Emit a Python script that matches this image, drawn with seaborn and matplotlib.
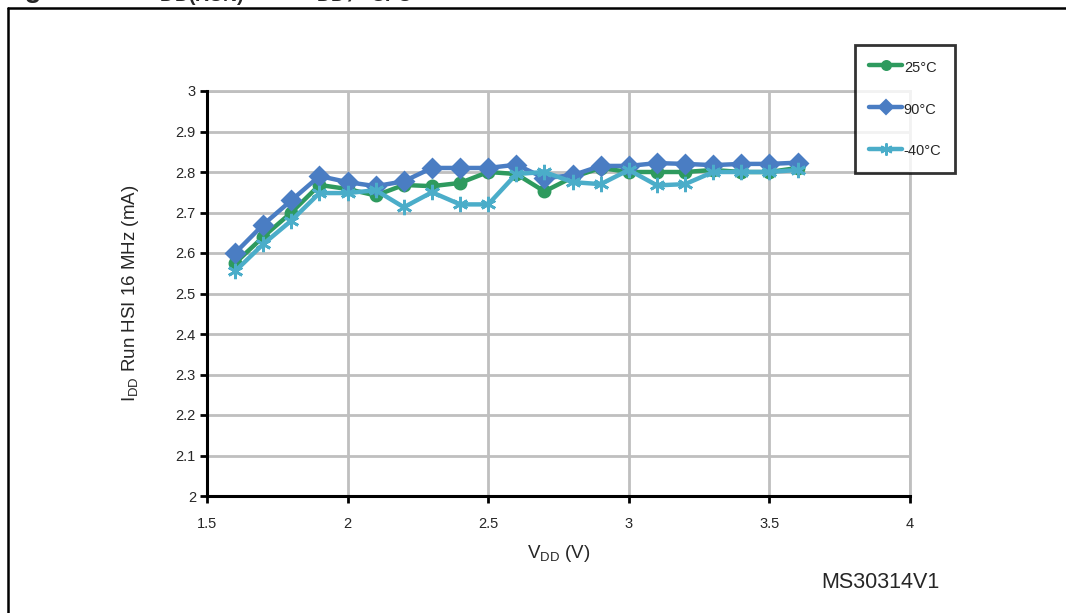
import matplotlib
matplotlib.use("Agg")
import matplotlib.pyplot as plt
import matplotlib.ticker as mticker
from matplotlib.lines import Line2D
import seaborn as sns
import pandas as pd

# supply voltage (V)
vdd = [1.6, 1.7, 1.8, 1.9, 2.0, 2.1, 2.2, 2.3, 2.4, 2.5, 2.6,
       2.7, 2.8, 2.9, 3.0, 3.1, 3.2, 3.3, 3.4, 3.5, 3.6]

# IDD Run HSI 16 MHz (mA) per temperature
idd_25c = [2.575, 2.64, 2.70, 2.768, 2.758, 2.742, 2.768, 2.765, 2.773, 2.80, 2.795,
           2.752, 2.787, 2.81, 2.80, 2.80, 2.80, 2.805, 2.80, 2.80, 2.81]
idd_90c = [2.60, 2.67, 2.73, 2.79, 2.775, 2.765, 2.777, 2.81, 2.81, 2.81, 2.818,
           2.785, 2.792, 2.815, 2.815, 2.822, 2.82, 2.817, 2.82, 2.82, 2.823]
idd_m40c = [2.555, 2.622, 2.68, 2.748, 2.748, 2.755, 2.713, 2.75, 2.72, 2.72, 2.795,
            2.80, 2.775, 2.77, 2.805, 2.767, 2.77, 2.80, 2.80, 2.80, 2.805]

labels = ["25°C", "90°C", "-40°C"]
colors = ["#2E9A5E", "#4A7DC3", "#4BADC9"]
markers = ["o", "D", (6, 2, 0)]
msizes = [8, 9, 11]

y_ticks = [2.0, 2.1, 2.2, 2.3, 2.4, 2.5, 2.6, 2.7, 2.8, 2.9, 3.0]
x_ticks = [1.5, 2.0, 2.5, 3.0, 3.5, 4.0]

df = pd.DataFrame({"vdd": vdd * 3,
                   "idd": idd_25c + idd_90c + idd_m40c,
                   "temp": [labels[0]] * len(vdd) + [labels[1]] * len(vdd) + [labels[2]] * len(vdd)})

sns.set_style("white")
plt.rcParams['font.family'] = ['Liberation Sans', 'DejaVu Sans']
plt.rcParams['mathtext.fontset'] = 'custom'
plt.rcParams['mathtext.rm'] = 'Liberation Sans'
plt.rcParams['mathtext.bf'] = 'Liberation Sans:bold'

fig = plt.figure(figsize=(10.66, 6.13), dpi=100)
ax = fig.add_axes([207 / 1066, 1 - 496 / 613, 703 / 1066, 405 / 613])

for lab, col, mk, ms in zip(labels, colors, markers, msizes):
    sub = df[df["temp"] == lab]
    sns.lineplot(data=sub, x="vdd", y="idd", ax=ax, color=col, lw=3.2,
                 marker=mk, markersize=ms, markeredgecolor=col, markeredgewidth=2,
                 legend=False, zorder=3)

ax.set_xlim(1.5, 4)
ax.set_ylim(2, 3)
ax.set_xticks(x_ticks)
ax.set_yticks(y_ticks)
fmt = mticker.FormatStrFormatter('%g')
ax.xaxis.set_major_formatter(fmt)
ax.yaxis.set_major_formatter(fmt)
ax.grid(True, color="#BFBFBF", lw=2)
ax.set_axisbelow(True)
for s in ["top", "right"]:
    ax.spines[s].set_color("#BFBFBF")
    ax.spines[s].set_linewidth(2)
for s in ["left", "bottom"]:
    ax.spines[s].set_color("black")
    ax.spines[s].set_linewidth(2.2)
    ax.spines[s].set_zorder(4)
ax.tick_params(axis="both", direction="out", length=5, width=2, color="black",
               labelsize=10.5, bottom=True, left=True)
ax.tick_params(axis="x", pad=10)
ax.tick_params(axis="y", pad=3)

ax.set_xlabel("V$_{\\mathrm{DD}}$ (V)", fontsize=13.5, labelpad=9)
ax.set_ylabel("I$_{\\mathrm{DD}}$ Run HSI 16 MHz (mA)", fontsize=13.5, labelpad=25)

handles = [Line2D([], [], color=c, lw=3.2, marker=m, markersize=s * 0.8,
                  markeredgecolor=c, markeredgewidth=1.5)
           for c, m, s in zip(colors, markers, msizes)]
leg = fig.legend(handles, labels, loc="upper left", bbox_to_anchor=(855 / 1066, 1 - 45 / 613),
                 frameon=True, fancybox=False, fontsize=10.5, handlelength=2.3,
                 handleheight=1.4, handletextpad=0.1, labelspacing=1.7,
                 borderpad=0.95, borderaxespad=0)
leg.get_frame().set_edgecolor("black")
leg.get_frame().set_linewidth(2)

fig.text(880 / 1066, 1 - 582 / 613, "MS30314V1", fontsize=15.5, ha="center", va="center")

# cut-off figure caption and the surrounding frame
cap_y = 1 + 3 / 613
fig.text(0, cap_y, "Figure 21.", fontsize=20, fontweight="bold", va="baseline")
fig.text(152 / 1066, cap_y,
         "I$_{\\mathbf{DD(RUN)}}$ vs. V$_{\\mathbf{DD}}$, f$_{\\mathbf{CPU}}$ = 16 MHz",
         fontsize=20, fontweight="bold", va="baseline")
fig.add_artist(Line2D([8 / 1066, 8 / 1066], [0, 1 - 8 / 613], color="black", lw=1.8,
                      transform=fig.transFigure))
fig.add_artist(Line2D([8 / 1066, 1], [1 - 8 / 613, 1 - 8 / 613], color="black", lw=1.8,
                      transform=fig.transFigure))

fig.savefig("out.png", dpi=100)
